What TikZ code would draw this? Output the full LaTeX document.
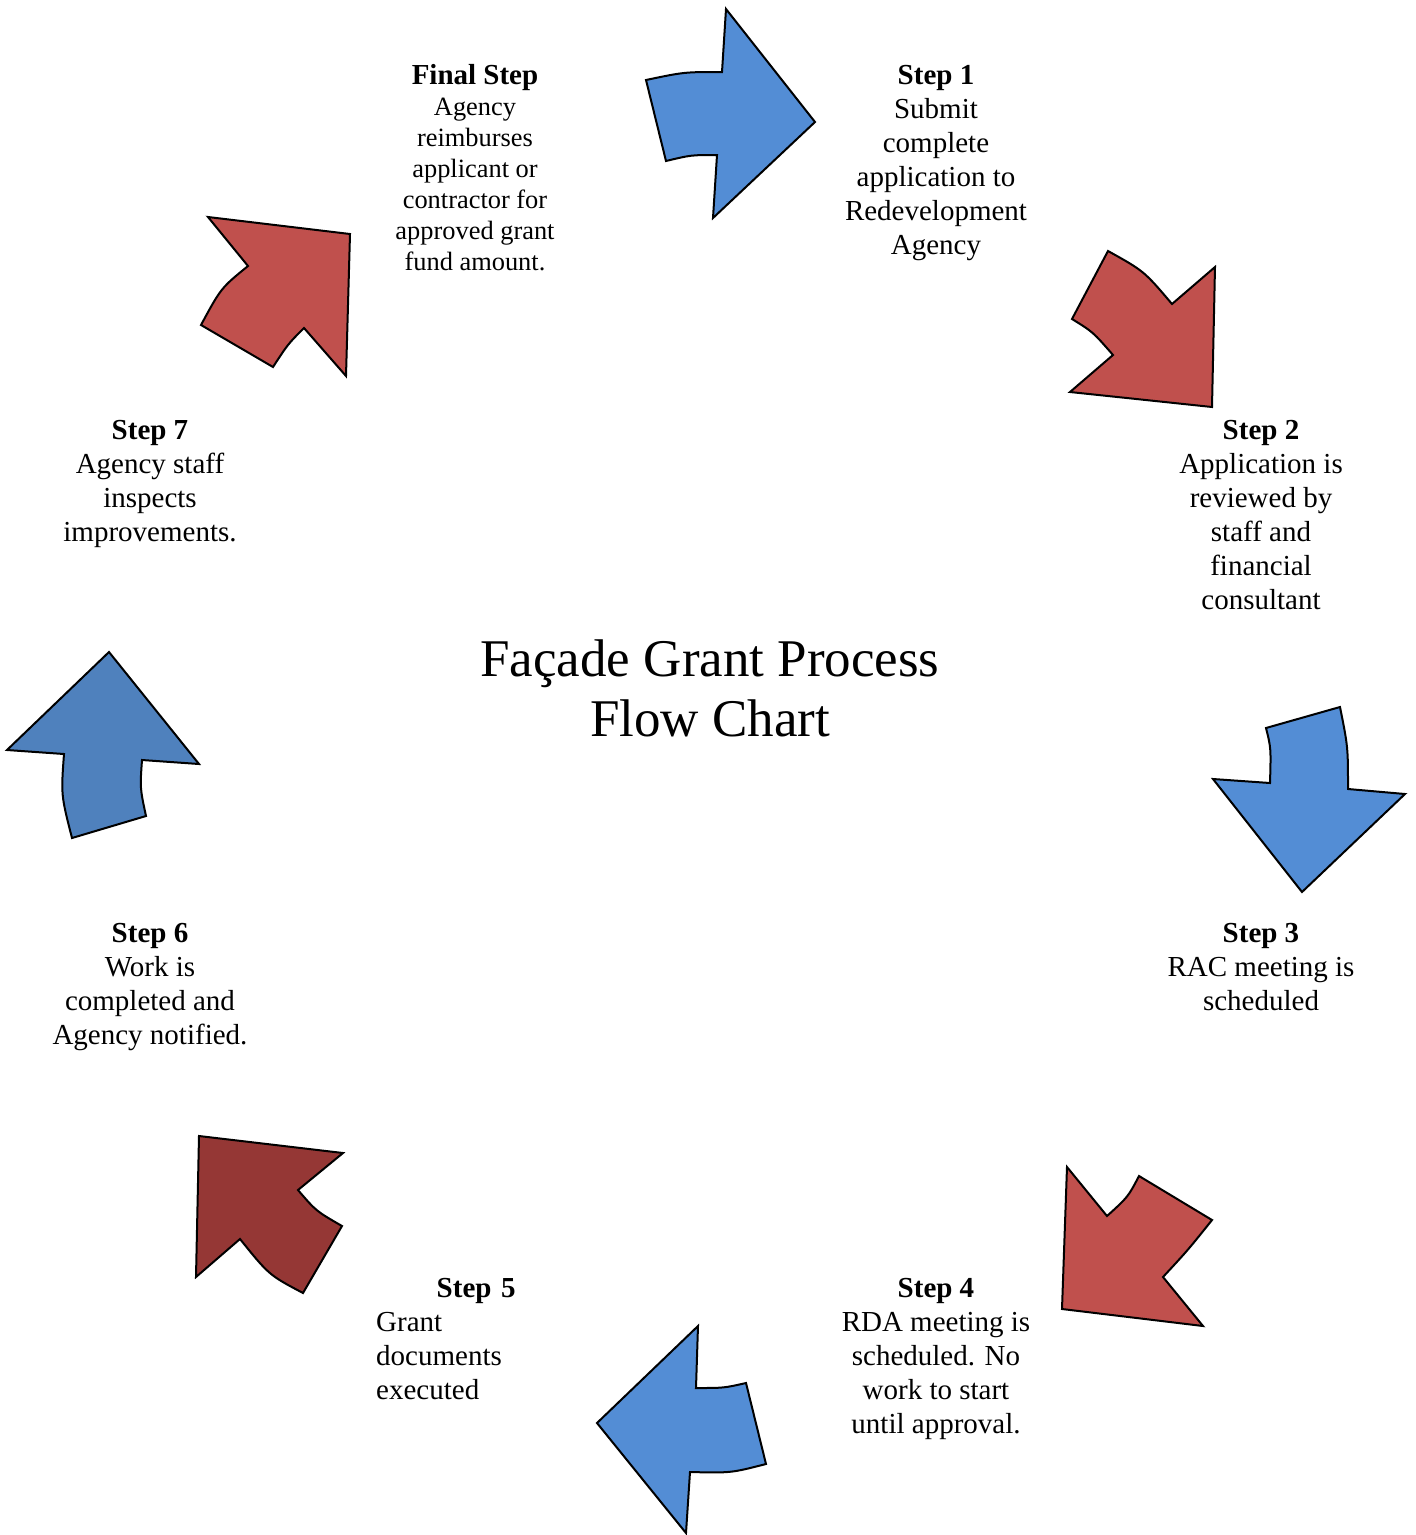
\documentclass[tikz,border=0pt]{standalone}
\usepackage{fontspec}
\setmainfont{Liberation Serif}
\definecolor{arrB}{RGB}{83,141,213}
\definecolor{arrS}{RGB}{79,129,189}
\definecolor{arrR}{RGB}{192,80,77}
\definecolor{arrD}{RGB}{149,55,53}

\begin{document}
\begin{tikzpicture}[x={(1pt,0pt)},y={(0pt,-1pt)},blk/.style={draw=black,line width=2pt},
  steptxt/.style={align=center,inner sep=0pt,anchor=north,font=\fontsize{29}{34}\selectfont}]
\useasboundingbox (0,0) rectangle (1416,1535);
% arrow into step 1
\draw[blk,fill=arrB] (646,80) .. controls (684,72) .. (722,72) -- (726,9) -- (815,122) -- (713,218) -- (717,155) .. controls (691,155) .. (666,161) -- cycle;
% arrow into step 2
\draw[blk,fill=arrR] (1108,251) .. controls (1144,271) .. (1172,304) -- (1215,267) -- (1212,407) -- (1070,392) -- (1113,355) .. controls (1093,332) .. (1072,319) -- cycle;
% arrow into step 3
\draw[blk,fill=arrB] (1266,728) -- (1340,707) .. controls (1348,747) .. (1348,789) -- (1405,794) -- (1302,892) -- (1213,779) -- (1270,783) .. controls (1271,748) .. cycle;
% arrow into step 4
\draw[blk,fill=arrR] (1067,1167) -- (1107,1216) .. controls (1128,1197) .. (1139,1176) -- (1212,1220) .. controls (1188,1250) .. (1163,1277) -- (1203,1326) -- (1062,1309) -- cycle;
% arrow into step 5
\draw[blk,fill=arrB] (698,1326) -- (696,1388) .. controls (724,1388) .. (746,1383) -- (766,1464) .. controls (731,1473) .. (690,1472) -- (686,1533) -- (597,1423) -- cycle;
% arrow into step 6
\draw[blk,fill=arrD] (199,1136) -- (343,1153) -- (298,1190) .. controls (316,1211) .. (342,1226) -- (303,1293) .. controls (269,1275) .. (240,1239) -- (196,1277) -- cycle;
% arrow into step 7
\draw[blk,fill=arrS] (109,652) -- (199,764) -- (142,760) .. controls (140,788) .. (146,816) -- (72,838) .. controls (61,795) .. (64,754) -- (7,750) -- cycle;
% arrow into final step
\draw[blk,fill=arrR] (208,217) -- (350,234) -- (346,376) -- (304,328) .. controls (288,344) .. (273,367) -- (201,325) .. controls (221,288) .. (248,266) -- cycle;
% texts
\node[align=center,inner sep=0pt,anchor=north,font=\fontsize{53}{60}\selectfont] (title) at (710,640) {Façade Grant Process\\Flow Chart};
\node[steptxt,font=\fontsize{26.4}{31}\selectfont] (final) at (475,64) {{\fontsize{29}{31}\selectfont\bfseries Final Step}\\Agency\\reimburses\\applicant or\\contractor for\\approved grant\\fund amount.};
\node[steptxt] (s1) at (936,65) {\textbf{Step 1}\\Submit\\complete\\application to\\Redevelopment\\Agency};
\node[steptxt] (s2) at (1261,420) {\textbf{Step 2}\\Application is\\reviewed by\\staff and\\financial\\consultant};
\node[steptxt] (s3) at (1261,923) {\textbf{Step 3}\\RAC meeting is\\scheduled};
\node[steptxt] (s4) at (936,1278) {\textbf{Step 4}\\RDA meeting is\\scheduled. No\\work to start\\until approval.};
\node[anchor=north west,inner sep=0pt,text width=200pt,font=\fontsize{29}{34}\selectfont] (s5) at (376,1278) {{\centering\textbf{Step 5}\par}\raggedright Grant\\documents\\executed};
\node[steptxt] (s6) at (150,923) {\textbf{Step 6}\\Work is\\completed and\\Agency notified.};
\node[steptxt] (s7) at (150,420) {\textbf{Step 7}\\Agency staff\\inspects\\improvements.};
\end{tikzpicture}
\end{document}
